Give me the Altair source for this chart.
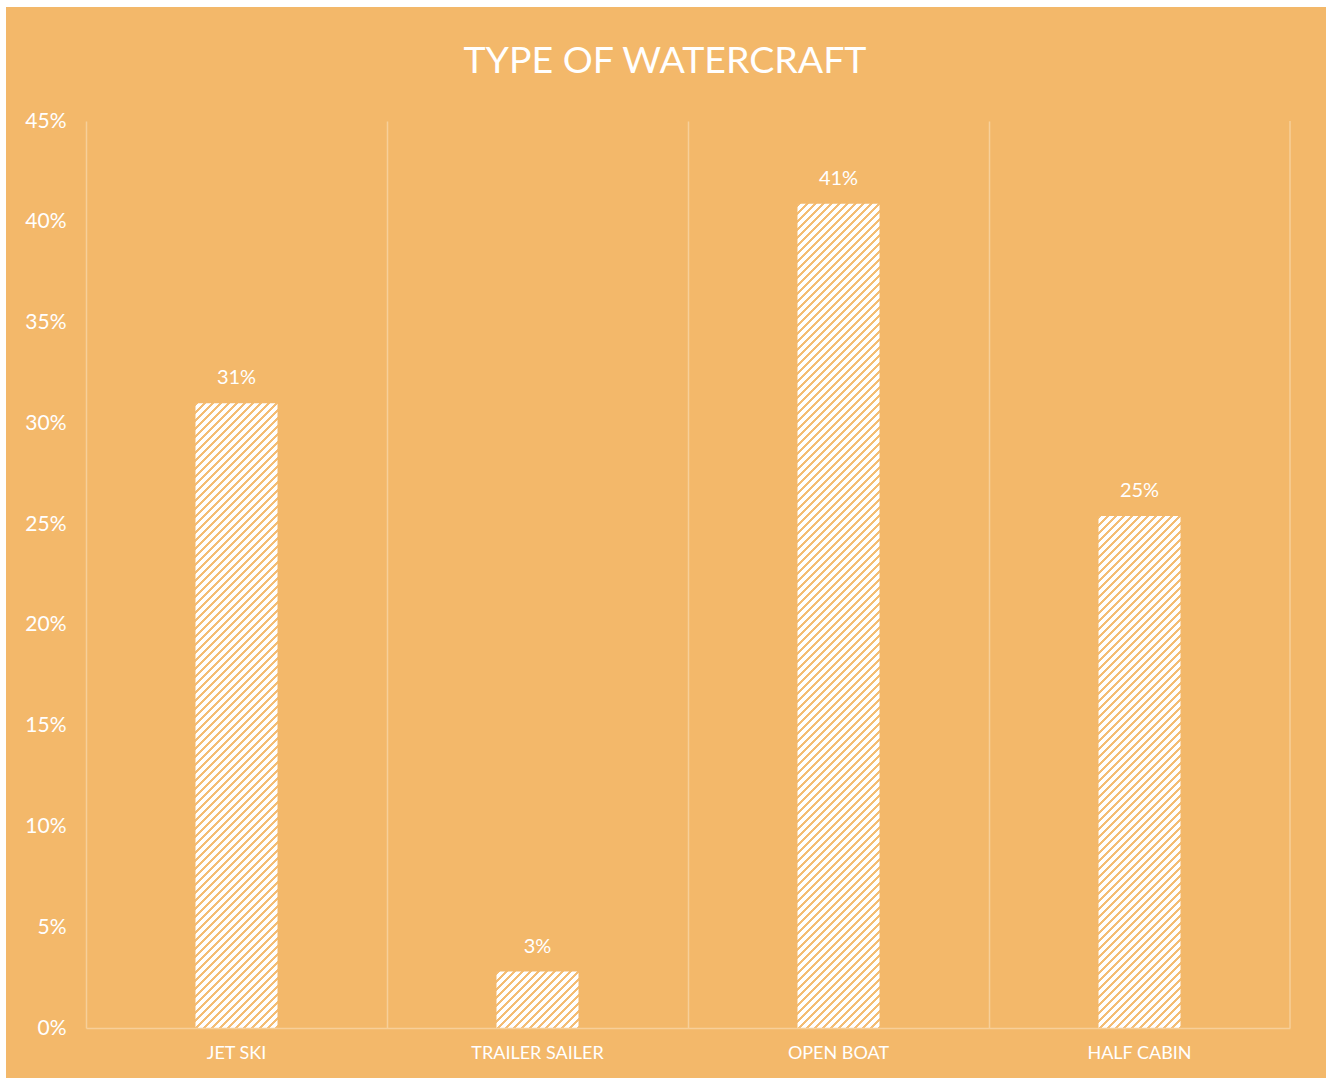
import altair as alt
import pandas as pd

# ---- data ----
TITLE = "TYPE OF WATERCRAFT"
categories = ["JET SKI", "TRAILER SAILER", "OPEN BOAT", "HALF CABIN"]
shares = [0.310, 0.028, 0.409, 0.254]
y_ticks = [0, 0.05, 0.10, 0.15, 0.20, 0.25, 0.30, 0.35, 0.40, 0.45]

# ---- style ----
BG = "#F3B86A"
GRID = "#F7CF99"
STRIPE = "#F4BD74"
FONT = "Lato"
W, H = 1204, 907
YMAX = 0.45
BAR_W = 82

df = pd.DataFrame({"cat": categories, "share": shares})

x_enc = alt.X(
    "cat:N",
    scale=alt.Scale(domain=categories, paddingInner=0, paddingOuter=0),
    axis=alt.Axis(
        title=None, labelAngle=0, ticks=False, grid=True, gridColor=GRID,
        gridWidth=1.5, bandPosition=0, domain=True, domainColor=GRID,
        domainWidth=1.5, labelColor="white", labelFont=FONT, labelFontSize=18,
        labelPadding=16, zindex=1,
    ),
)
y_enc = alt.Y(
    "share:Q",
    scale=alt.Scale(domain=[0, YMAX], nice=False),
    axis=alt.Axis(
        title=None, values=y_ticks, format=".0%", ticks=False, grid=False,
        domain=False, labelColor="white", labelFont=FONT, labelFontSize=21,
        labelPadding=20, zindex=1,
    ),
)


def hatch(value):
    """Diagonal stripe fill (45 degrees in pixel space) for a bar of this value."""
    h = value / YMAX * H
    w = BAR_W
    s = w + h
    n2 = w * w + h * h
    a = w * s / n2
    b = h * s / n2
    period, stripe = 8.0, 3.0
    stops = []
    pos = 0.0
    while pos < s:
        o0 = pos / s
        o1 = min(pos + stripe, s) / s
        o2 = min(pos + period, s) / s
        stops += [
            alt.GradientStop(offset=o0, color=STRIPE),
            alt.GradientStop(offset=o1, color=STRIPE),
            alt.GradientStop(offset=o1, color="#FFFFFF"),
            alt.GradientStop(offset=o2, color="#FFFFFF"),
        ]
        pos += period
    return alt.LinearGradient(gradient="linear", stops=stops, x1=0, y1=0, x2=a, y2=b)


one = alt.Data(values=[{}])

bg = alt.Chart(one).mark_rect(color=BG).encode(
    x=alt.value(-80), x2=alt.value(1240), y=alt.value(-114), y2=alt.value(957)
)

bars = [
    alt.Chart(df)
    .transform_filter(alt.datum.cat == c)
    .mark_bar(width=BAR_W, fill=hatch(v), strokeWidth=0)
    .encode(x=x_enc, y=y_enc)
    for c, v in zip(categories, shares)
]

labels = alt.Chart(df).mark_text(
    dy=-19, baseline="alphabetic", color="white", fontSize=20, font=FONT
).encode(x=x_enc, y=y_enc, text=alt.Text("share:Q", format=".0%"))

edge = alt.Chart(one).mark_rule(color=GRID, strokeWidth=1.5).encode(
    x=alt.value(W), y=alt.value(0), y2=alt.value(H)
)

title = alt.Chart(alt.Data(values=[{"t": TITLE}])).mark_text(
    fontSize=37.5, color="white", font=FONT, align="center", baseline="alphabetic"
).encode(x=alt.value(579), y=alt.value(-48), text="t:N")

chart = (
    alt.layer(bg, *bars, labels, edge, title)
    .properties(
        width=W, height=H, background="white",
        padding={"left": 6, "top": 7, "right": 2, "bottom": 2},
    )
    .configure_view(stroke=None)
)

chart.save("out.html", embed_options={"renderer": "svg", "actions": False})
